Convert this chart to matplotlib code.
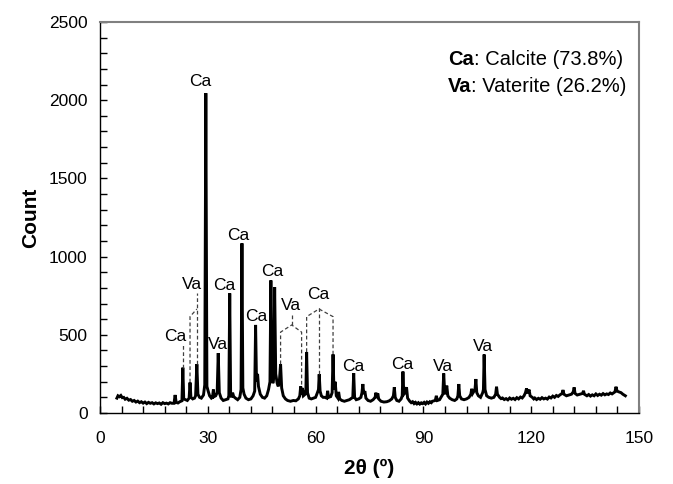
import matplotlib
matplotlib.use("Agg")
import matplotlib.pyplot as plt
from matplotlib.ticker import MultipleLocator

plt.rcParams['font.family'] = ['Liberation Sans', 'DejaVu Sans']

# XRD trace (2theta in degrees, counts)
two_theta = [
    4.7, 5.0, 5.4, 5.8, 6.2, 6.6, 7.0, 7.5, 8.0, 8.5, 9.0, 9.5, 10.0, 10.5, 11.0, 11.5, 12.0,
    12.5, 13.0, 13.5, 14.0, 14.5, 15.0, 15.5, 16.0, 16.5, 17.0, 17.5, 18.0, 18.5, 19.0, 19.5, 20.0,
    20.6, 20.9, 21.2, 21.7, 22.2, 22.8, 23.05, 23.3, 23.8, 24.3,
    24.8, 25.05, 25.3, 25.8, 26.3, 26.6, 26.95, 27.25, 27.7, 28.2, 28.8,
    29.15, 29.45, 29.75, 30.1, 30.5, 31.0, 31.3, 31.55, 31.8, 32.2,
    32.6, 32.9, 33.2, 33.7, 34.3, 35.0, 35.6,
    35.85, 36.1, 36.35, 36.6, 36.9, 37.2, 37.7, 38.3, 38.9,
    39.25, 39.5, 39.75, 40.1, 40.6, 41.3, 42.0, 42.6,
    43.05, 43.3, 43.55, 43.85, 44.1, 44.6, 45.2, 45.8, 46.4, 46.9,
    47.3, 47.55, 47.85, 48.1, 48.35, 48.6, 48.9, 49.3, 49.6, 49.9, 50.25, 50.55,
    51.0, 51.6, 52.2, 53.0, 53.8, 54.5, 55.2,
    55.6, 55.85, 56.1, 56.35, 56.6, 57.1, 57.3, 57.5, 57.75,
    58.2, 58.8, 59.4, 60.0, 60.5, 60.8, 61.0, 61.25, 61.6, 62.1, 62.6,
    63.1, 63.35, 63.6, 64.2, 64.6, 64.85, 65.1, 65.45, 65.75, 66.2, 66.4, 66.7,
    67.3, 68.0, 68.7, 69.4, 70.0, 70.35, 70.6, 70.85, 71.3, 72.0, 72.6,
    72.9, 73.15, 73.4, 73.7, 74.0, 74.6, 75.3, 76.0,
    76.55, 76.8, 77.05, 77.3, 77.55, 78.2, 79.0, 79.8, 80.5, 81.2,
    81.65, 81.9, 82.15, 82.6, 83.2, 83.8,
    84.1, 84.3, 84.55, 84.9, 85.3, 85.6,
    86.2, 86.6, 87.0, 87.4, 87.8, 88.2, 88.6, 89.0, 89.4, 89.8, 90.2, 90.6, 91.0, 91.4, 91.8, 92.2, 92.5,
    93.3, 93.6, 93.9, 94.5,
    95.4, 95.65, 95.9, 96.2, 96.5, 96.8, 97.3, 98.0, 98.7, 99.3,
    99.6, 99.85, 100.1, 100.6, 101.3, 102.0, 102.7,
    103.2, 103.45, 103.7, 104.35, 104.6, 104.85, 105.3, 105.9, 106.5,
    106.7, 106.9, 107.15, 107.6, 108.2, 108.9, 109.6,
    110.1, 110.35, 110.6,
    111.2, 111.6, 112.0, 112.5, 113.0, 113.5, 114.0, 114.5, 115.0, 115.5, 116.0, 116.5, 117.0, 117.5, 118.0,
    118.4, 118.7, 119.0, 119.4, 119.7,
    120.3, 120.7, 121.0, 121.5, 122.0, 122.5, 123.0, 123.5, 124.0, 124.5, 125.0, 125.5, 126.0, 126.5,
    127.0, 127.5, 128.0,
    128.6, 128.85, 129.1, 129.8, 130.5, 131.2,
    131.7, 131.95, 132.2, 132.8, 133.6,
    134.3, 134.55, 134.8,
    135.5, 136.0, 136.5, 137.0, 137.5, 138.0, 138.5, 139.0, 139.5, 140.0, 140.5, 141.0, 141.5, 142.0, 142.5,
    143.3, 143.6, 143.9, 144.4, 145.0, 145.5, 146.2,
]
counts = [
    95, 110, 104, 112, 98, 100, 88, 94, 82, 86, 75, 80, 70, 76, 66, 72, 63,
    70, 60, 68, 62, 66, 58, 65, 60, 64, 56, 66, 60, 63, 58, 66, 62,
    62, 115, 68, 64, 72, 78, 290, 90, 85, 80,
    95, 195, 100, 90, 95, 110, 312, 120, 100, 95, 115,
    180, 2045, 170, 140, 110, 95, 100, 150, 105, 110,
    130, 383, 130, 95, 80, 85, 90,
    110, 765, 120, 100, 130, 105, 95, 85, 100,
    150, 1085, 160, 120, 95, 85, 90, 110,
    140, 563, 200, 250, 170, 120, 100, 95, 110, 150,
    200, 848, 300, 190, 230, 805, 250, 190, 170, 200, 312, 160,
    110, 90, 80, 75, 80, 78, 90,
    110, 170, 120, 160, 110, 120, 150, 390, 130,
    95, 90, 95, 100, 130, 150, 248, 140, 110, 100, 100,
    95, 142, 100, 105, 130, 375, 150, 200, 110, 95, 135, 90,
    80, 75, 80, 85, 95, 100, 255, 100, 85, 90, 100,
    130, 185, 120, 140, 95, 80, 75, 85,
    100, 130, 95, 125, 90, 75, 70, 72, 78, 90,
    110, 165, 100, 80, 75, 90,
    110, 265, 120, 130, 165, 95,
    75, 66, 72, 60, 68, 58, 66, 57, 65, 60, 68, 58, 70, 62, 72, 66, 75,
    80, 110, 80, 85,
    120, 253, 140, 120, 175, 110, 95, 85, 80, 90,
    110, 185, 110, 90, 85, 90, 100,
    120, 155, 125, 150, 217, 130, 110, 100, 130,
    150, 374, 150, 110, 100, 95, 100,
    120, 168, 120,
    100, 92, 96, 86, 92, 84, 96, 88, 94, 86, 98, 90, 102, 96, 110,
    130, 157, 125, 150, 110,
    100, 90, 96, 86, 94, 88, 98, 90, 95, 89, 102, 96, 108, 100,
    112, 106, 116,
    125, 147, 120, 110, 115, 120,
    135, 164, 125, 115, 120,
    125, 142, 120,
    110, 118, 108, 116, 110, 122, 112, 120, 114, 124, 116, 122, 118, 128, 122,
    135, 168, 140, 135, 130, 120, 110,
]

# phase labels: text, x, y
label_text = ['Ca', 'Va', 'Ca', 'Va', 'Ca', 'Ca', 'Ca', 'Ca', 'Va', 'Ca', 'Ca', 'Ca', 'Va', 'Va']
label_x = [20.9, 25.5, 27.8, 32.9, 34.5, 38.4, 43.6, 47.8, 53.1, 60.75, 70.5, 84.2, 95.5, 106.7]
label_y = [492, 823, 2118, 435, 814, 1132, 616, 903, 690, 759, 300, 313, 300, 428]

# dashed leader lines (x list, y list)
leaders = [
    ([23.0, 23.0], [290, 446]),
    ([25.05, 25.05, 26.95], [195, 616, 665]),
    ([26.95, 26.95], [312, 765]),
    ([50.25, 50.25, 53.35, 56.1, 56.1], [312, 517, 563, 517, 170]),
    ([53.35, 53.35], [563, 632]),
    ([57.5, 57.5, 60.95, 64.85, 64.85], [390, 616, 665, 616, 375]),
    ([60.95, 60.95], [248, 680]),
]

fig = plt.figure(figsize=(6.73, 4.84), dpi=100)
ax = fig.add_axes([0.1486, 0.1467, 0.8009, 0.8079])

ax.plot(two_theta, counts, color='black', lw=2.1, solid_joinstyle='miter')

for xs, ys in leaders:
    ax.plot(xs, ys, color='#404040', lw=0.9, dashes=(3, 2))

for t, x, y in zip(label_text, label_x, label_y):
    ax.text(x, y, t, ha='center', va='center', fontsize=12.5)

ax.set_xlim(0, 150)
ax.set_ylim(0, 2500)
ax.xaxis.set_major_locator(MultipleLocator(30))
ax.xaxis.set_minor_locator(MultipleLocator(6))
ax.yaxis.set_major_locator(MultipleLocator(500))
ax.yaxis.set_minor_locator(MultipleLocator(100))
ax.tick_params(which='both', direction='in', labelsize=12.5, top=False, right=False)
ax.tick_params(which='major', length=5, width=1)
ax.tick_params(which='minor', length=5, width=1)
ax.tick_params(axis='x', pad=13)
ax.tick_params(axis='y', pad=9)

for s in ['top', 'right']:
    ax.spines[s].set_color('#808080')
    ax.spines[s].set_linewidth(1.5)
for s in ['left', 'bottom']:
    ax.spines[s].set_linewidth(1)

ax.set_xlabel('2θ (º)', fontsize=15, fontweight='bold', labelpad=9)
ax.set_ylabel('Count', fontsize=15, fontweight='bold', labelpad=6)

# composition note
t1 = ax.text(0.6456, 0.905, 'Ca', transform=ax.transAxes, fontsize=14.5,
             fontweight='bold', va='center')
ax.annotate(': Calcite (73.8%)', xy=(1, 0.5), xycoords=t1, va='center', fontsize=14.5)
t2 = ax.text(0.6456, 0.836, 'Va', transform=ax.transAxes, fontsize=14.5,
             fontweight='bold', va='center')
ax.annotate(': Vaterite (26.2%)', xy=(1, 0.5), xycoords=t2, va='center', fontsize=14.5)

fig.savefig('out.png', dpi=100)
